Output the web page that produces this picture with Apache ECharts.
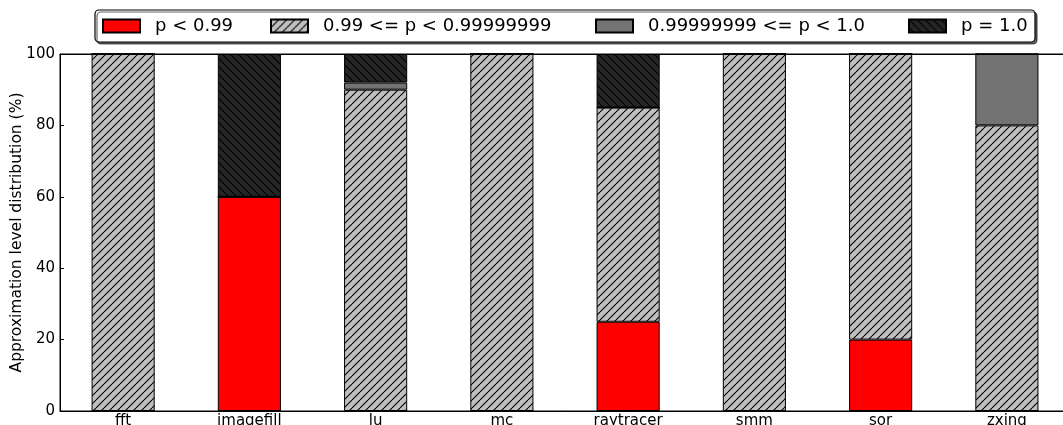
<!DOCTYPE html>
<html>
<head>
<meta charset="utf-8">
<script src="https://cdn.jsdelivr.net/npm/echarts@6/dist/echarts.min.js"></script>
<style>
  html, body { margin: 0; padding: 0; background: #fff; overflow: hidden; }
  #chart { width: 1063px; height: 425px; }
</style>
</head>
<body>
<div id="chart"></div>
<script>
// Benchmarks and the share of approximation levels in each (%)
const categories = ['fft', 'imagefill', 'lu', 'mc', 'raytracer', 'smm', 'sor', 'zxing'];
const seriesNames = ['p < 0.99', '0.99 <= p < 0.99999999', '0.99999999 <= p < 1.0', 'p = 1.0'];
const lowValues     = [0, 60, 0, 0, 25, 0, 20, 0];
const midValues     = [100, 0, 90, 100, 60, 100, 80, 80];
const highValues    = [0, 0, 2, 0, 0, 0, 0, 20];
const exactValues   = [0, 40, 8, 0, 15, 0, 0, 0];
const yTicks = [0, 20, 40, 60, 80, 100];

const FONT = 'DejaVu Sans';
const LEGEND_FONT = 18;

// Diagonal hatch tile; dir 1 = "/", dir -1 = "\"
function hatch(bg, line, dir) {
  const s = 8;
  const c = document.createElement('canvas');
  c.width = s; c.height = s;
  const g = c.getContext('2d');
  g.fillStyle = bg;
  g.fillRect(0, 0, s, s);
  g.strokeStyle = line;
  g.lineWidth = 1.1;
  g.beginPath();
  for (let k = -1; k <= 1; k++) {
    if (dir > 0) {
      g.moveTo(k * s, s); g.lineTo(k * s + s, 0);
    } else {
      g.moveTo(k * s, 0); g.lineTo(k * s + s, s);
    }
  }
  g.stroke();
  return { image: c, repeat: 'repeat' };
}

const fills = [
  '#ff0000',
  hatch('#bfbfbf', '#000', 1),
  '#737373',
  hatch('#262626', '#000', -1)
];
const dataSets = [lowValues, midValues, highValues, exactValues];

// Legend entries sit in one framed box; each entry is placed on its own
const legendLefts = [102, 270, 595, 908];
const legends = seriesNames.map((name, i) => ({
  left: legendLefts[i],
  top: 17,
  padding: 0,
  z: 5,
  itemWidth: 37,
  itemHeight: 13,
  icon: 'rect',
  textStyle: { fontFamily: FONT, fontSize: LEGEND_FONT, color: '#000', padding: [0, 0, 0, 10] },
  data: [name]
}));

const chart = echarts.init(document.getElementById('chart'), null, { renderer: 'canvas' });

chart.setOption({
  animation: false,
  textStyle: { fontFamily: FONT },
  legend: legends,
  graphic: [{
    type: 'rect',
    z: 1,
    silent: true,
    shape: { x: 95, y: 10, width: 940, height: 32, r: 4 },
    style: {
      fill: '#fff', stroke: '#000', lineWidth: 1.2,
      shadowColor: 'rgba(0,0,0,0.6)', shadowOffsetX: 2, shadowOffsetY: 2, shadowBlur: 0
    }
  }],
  grid: {
    left: 60, right: -7, top: 54, bottom: 14,
    outerBoundsMode: 'none',
    containLabel: false,
    show: true, borderColor: '#000', borderWidth: 1, backgroundColor: 'transparent'
  },
  xAxis: [{
    type: 'category',
    data: categories,
    position: 'bottom',
    axisLine: { lineStyle: { color: '#000' } },
    axisTick: { inside: true, alignWithLabel: true, length: 4, lineStyle: { color: '#000' } },
    axisLabel: { fontFamily: FONT, fontSize: 15, color: '#000', margin: 3 }
  }, {
    type: 'category',
    data: categories,
    position: 'top',
    axisLine: { lineStyle: { color: '#000' } },
    axisTick: { inside: true, alignWithLabel: true, length: 4, lineStyle: { color: '#000' } },
    axisLabel: { show: false }
  }],
  yAxis: {
    type: 'value',
    min: yTicks[0],
    max: yTicks[yTicks.length - 1],
    interval: yTicks[1] - yTicks[0],
    name: 'Approximation level distribution (%)',
    nameLocation: 'middle',
    nameGap: 35,
    nameMoveOverlap: false,
    nameTextStyle: { fontFamily: FONT, fontSize: 15.5, color: '#000' },
    axisLine: { show: true, lineStyle: { color: '#000' } },
    axisTick: { show: true, inside: true, length: 4, lineStyle: { color: '#000' } },
    splitLine: { show: false },
    axisLabel: { fontFamily: FONT, fontSize: 15, color: '#000', margin: 5 }
  },
  series: seriesNames.map((name, i) => ({
    name,
    type: 'bar',
    stack: 'total',
    barWidth: '50%',
    data: dataSets[i],
    itemStyle: { color: fills[i], borderColor: '#000', borderWidth: 1 },
    emphasis: { disabled: true }
  }))
});
</script>
</body>
</html>
